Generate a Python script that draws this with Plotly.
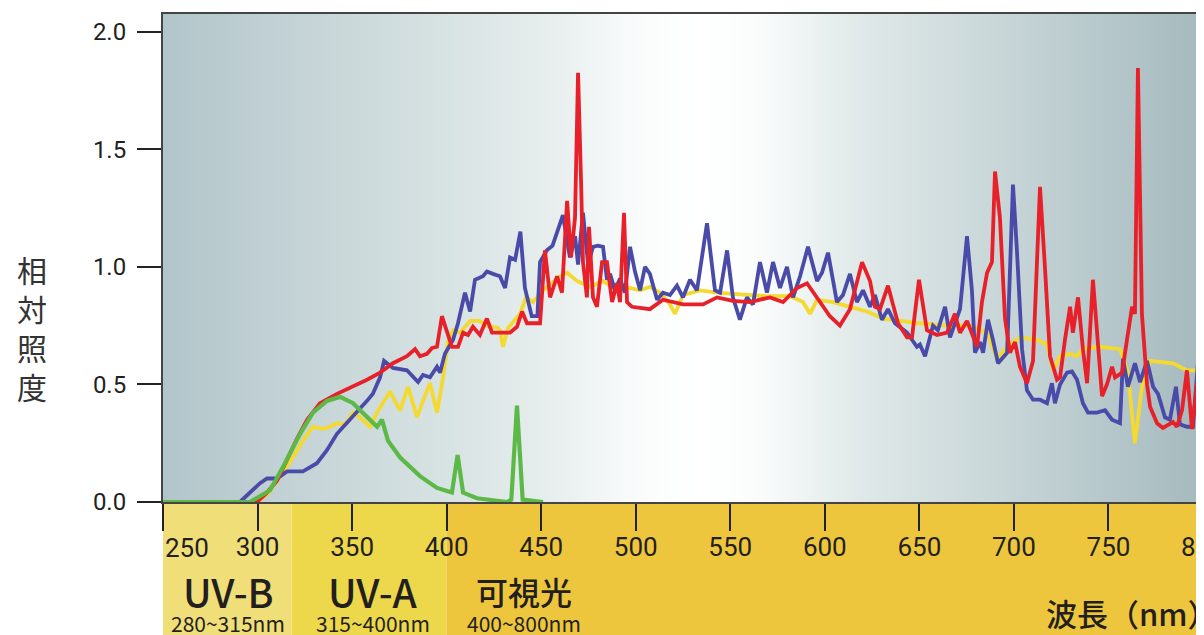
import numpy as np
import plotly.graph_objects as go

# ---------------- data ----------------
X_TICKS = [250, 300, 350, 400, 450, 500, 550, 600, 650, 700, 750, 800]
X_TICK_LABELS = ["", "300", "350", "400", "450", "500", "550", "600", "650", "700", "750", "800"]
Y_TICKS = [0.0, 0.5, 1.0, 1.5, 2.0]
Y_TICK_LABELS = ["0.0", "0.5", "1.0", "1.5", "2.0"]

# yellow series
yellow_wl = [300, 306, 311, 318.8, 324, 329.3, 334.6, 338.3, 342, 346.3, 350.5, 354.2, 359.5, 363.2,
             370, 375.3, 379.6, 384.3, 387.5, 391.2, 394.9, 398.1, 400.7, 403.4, 407.1, 412.4, 417.6,
             421.3, 424.5, 427.2, 428.2, 429.8, 432.5, 438.8, 442, 445.7, 451, 460, 463.7, 468.9, 475.8,
             482.7, 490.1, 497, 502.3, 507.5, 512.8, 518.1, 520.8, 525, 534, 543, 551.4, 560.4, 569.4,
             577.9, 581.6, 588.5, 592.2, 595.9, 604.3, 613.3, 622.3, 630.8, 639.8, 650.3, 664.6, 676.8,
             685.8, 691.1, 696.4, 703.2, 712.2, 717.5, 720.7, 724.4, 729.7, 733.4, 736.5, 745.5, 756.1,
             760.3, 764, 767.7, 772, 784.1, 791.5, 800]
yellow_val = [0.0, 0.04, 0.1, 0.19, 0.26, 0.32, 0.31, 0.32, 0.335, 0.33, 0.38, 0.36, 0.32, 0.38,
              0.47, 0.39, 0.49, 0.36, 0.43, 0.505, 0.38, 0.53, 0.68, 0.73, 0.72, 0.77, 0.77,
              0.75, 0.745, 0.74, 0.73, 0.66, 0.74, 0.80, 0.87, 0.85, 0.90, 0.96, 0.975, 0.94, 0.915,
              0.94, 0.90, 0.91, 0.90, 0.915, 0.89, 0.84, 0.80, 0.88, 0.90, 0.89, 0.885, 0.88, 0.875,
              0.875, 0.875, 0.85, 0.80, 0.86, 0.85, 0.83, 0.81, 0.78, 0.77, 0.76, 0.75, 0.75,
              0.72, 0.61, 0.66, 0.70, 0.69, 0.67, 0.56, 0.62, 0.63, 0.62, 0.65, 0.66, 0.65,
              0.55, 0.25, 0.49, 0.60, 0.59, 0.56, 0.56]

# blue series
blue_wl = [280.1, 290.7, 301.3, 305, 310.3, 315.6, 318.8, 324, 331.4, 336.7, 342, 347.3, 352.6, 357.9,
           361, 364.8, 366.9, 371.6, 379, 384.9, 387.5, 391.2, 394.9, 396.5, 399.1, 403.4, 406, 409.7,
           412.4, 415, 419.2, 421.3, 424.5, 428.2, 430.9, 433.5, 436.2, 439, 441.4, 445, 448, 449.4,
           453, 456, 461.5, 465.2, 467.9, 469.5, 472.1, 474.8, 477.4, 480, 482.7, 484.8, 486.4, 489,
           491.7, 494.3, 497, 499.6, 502.3, 504.9, 507.5, 511.3, 514.4, 518.1, 521.8, 525, 528.7,
           532.4, 537.7, 541.9, 544.6, 548.3, 551.4, 555.1, 558.8, 562, 565.7, 569.4, 572.6, 576.3,
           580, 583.2, 586.9, 591.1, 595.9, 598.5, 601.7, 606.4, 609.6, 613.3, 617, 620.2, 623.9,
           626.5, 630.2, 633.4, 637.1, 643.5, 646.1, 648.7, 650.3, 653, 655.6, 657.2, 659.8, 663.6,
           666.2, 668.8, 671.5, 675.2, 677.8, 679.4, 682.1, 683.7, 686.3, 688.9, 691.6, 696.4, 699.5,
           701.6, 704.3, 706.9, 710.1, 713.8, 717.5, 720.1, 721.7, 724.4, 728.1, 730.7, 733.4, 736.5,
           739.2, 743.9, 748.2, 751.9, 756.1, 757.7, 760.3, 764, 766.7, 770.4, 773.6, 776.2, 779.9,
           782.5, 785.7, 787.8, 791.5, 794.7, 797.4, 800]
blue_val = [0.0, 0.0, 0.08, 0.10, 0.10, 0.13, 0.13, 0.13, 0.165, 0.22, 0.29, 0.335, 0.38, 0.43,
            0.46, 0.53, 0.60, 0.57, 0.56, 0.51, 0.54, 0.53, 0.575, 0.55, 0.63, 0.69, 0.76, 0.89,
            0.81, 0.945, 0.96, 0.98, 0.97, 0.96, 0.91, 1.04, 1.03, 1.15, 0.91, 0.79, 0.79, 1.02,
            1.07, 1.09, 1.22, 1.04, 1.13, 1.01, 1.23, 1.01, 1.085, 1.09, 1.085, 0.945, 0.97, 0.90,
            0.95, 0.89, 1.085, 0.98, 0.90, 1.0, 0.97, 0.86, 0.89, 0.88, 0.92, 0.87, 0.945,
            0.90, 1.185, 0.90, 0.89, 1.07, 0.87, 0.775, 0.87, 0.84, 1.02, 0.89, 1.02, 0.91,
            1.0, 0.87, 0.96, 1.085, 0.94, 0.975, 1.06, 0.85, 0.88, 0.97, 0.85, 0.90, 0.83,
            0.88, 0.775, 0.82, 0.76, 0.72, 0.69, 0.66, 0.67, 0.62, 0.70, 0.75, 0.73, 0.83,
            0.70, 0.76, 0.82, 1.13, 0.90, 0.635, 0.68, 0.635, 0.775, 0.69, 0.59, 0.635, 1.35,
            1.07, 0.65, 0.475, 0.435, 0.435, 0.42, 0.505, 0.42, 0.50, 0.55, 0.555, 0.52, 0.42,
            0.38, 0.38, 0.39, 0.35, 0.335, 0.61, 0.49, 0.59, 0.51, 0.60, 0.49, 0.46, 0.36,
            0.35, 0.49, 0.33, 0.32, 0.32, 0.60, 0.48]

# red series
red_wl = [296, 299.7, 305, 310.3, 315.6, 320.9, 326.2, 333, 342, 350.5, 357.9, 364.8, 371.6, 379,
          383.3, 385.9, 389.6, 392.3, 394.9, 397.5, 400.2, 402.8, 406, 408.7, 411.3, 413.9, 417.6,
          421.3, 424, 428.2, 433.5, 437.2, 439.9, 442.5, 449.4, 452, 454.7, 458.4, 461, 463.7, 465.8,
          467.9, 469.5, 471.1, 472.1, 474.2, 475.3, 477.4, 479.5, 482.2, 484.8, 487.5, 490.1, 491.7,
          493.8, 495.4, 498, 507.5, 514.4, 525, 535.6, 543, 551.4, 560.4, 571, 577.9, 585.3, 590.6,
          595.9, 602.7, 608, 613.3, 619.7, 623.9, 626.5, 629.2, 633.4, 638.7, 643.5, 646.1, 649.8,
          654, 659.3, 664.6, 668.8, 671.5, 675.2, 680.5, 683.1, 685.8, 688.4, 690, 692.6, 695.3,
          697.9, 700.6, 703.2, 706.9, 710.1, 713.8, 716.4, 719.1, 722.8, 724.4, 727, 729.7, 731.2,
          733.9, 736.5, 738.7, 741.8, 744.5, 746.6, 749.2, 751.9, 753.5, 757.2, 759.8, 762.5, 764,
          765.6, 767.7, 770.4, 772, 775.7, 778.8, 781.5, 784.1, 786.2, 788.9, 791.5, 794.2, 796.8, 800]
red_val = [0.0, 0.0, 0.04, 0.09, 0.18, 0.27, 0.35, 0.42, 0.46, 0.49, 0.52, 0.55, 0.59, 0.62,
           0.65, 0.62, 0.63, 0.655, 0.66, 0.79, 0.72, 0.66, 0.66, 0.72, 0.71, 0.745, 0.71,
           0.78, 0.72, 0.72, 0.72, 0.745, 0.81, 0.76, 0.76, 1.07, 0.87, 0.96, 0.89, 1.28, 1.04,
           1.21, 1.825, 1.36, 1.02, 0.87, 1.17, 0.87, 0.83, 1.02, 1.02, 0.85, 0.93, 0.85,
           1.23, 0.85, 0.83, 0.82, 0.86, 0.84, 0.84, 0.87, 0.855, 0.85, 0.87, 0.85, 0.91, 0.93,
           0.87, 0.79, 0.75, 0.82, 1.02, 0.94, 0.83, 0.82, 0.92, 0.76, 0.70, 0.70, 0.945,
           0.73, 0.71, 0.72, 0.80, 0.72, 0.77, 0.66, 0.85, 0.975, 1.02, 1.405, 1.21, 0.78,
           0.635, 0.68, 0.575, 0.505, 0.60, 1.34, 1.0, 0.62, 0.52, 0.53, 0.69, 0.83, 0.72,
           0.87, 0.65, 0.505, 0.945, 0.65, 0.45, 0.50, 0.575, 0.53, 0.55, 0.69, 0.83, 0.80,
           1.845, 0.80, 0.50, 0.405, 0.335, 0.315, 0.33, 0.34, 0.32, 0.39, 0.56, 0.31, 0.50, 0.55]

# green series
green_wl = [250, 296, 306.6, 313.5, 322.5, 329.3, 336.7, 343.6, 350.5, 357.9, 363.2, 365.8, 369,
            375.3, 385.9, 394.9, 402.8, 405.8, 408.7, 416, 432, 434.2, 437.2, 440.2, 451]
green_val = [0.0, 0.0, 0.05, 0.15, 0.29, 0.38, 0.43, 0.447, 0.42, 0.36, 0.32, 0.35, 0.26,
             0.19, 0.11, 0.06, 0.04, 0.20, 0.04, 0.016, 0.0, 0.01, 0.41, 0.01, 0.0]

BAND_EDGES = [250, 318, 400, 800]
BAND_NAMES = ["UV-B", "UV-A", "可視光"]
BAND_RANGES = ["280~315nm", "315~400nm", "400~800nm"]

# ---------------- style ----------------
X_RANGE = [250, 800]
Y_RANGE = [0, 2.075]
BAND_COLORS = ["#F0DE79", "#EDD84B", "#EEC63D"]
TEXT = "#231F20"
NUMFONT = "Roboto, Liberation Sans, sans-serif"
CJK = "Noto Sans CJK JP, Noto Sans, sans-serif"

# background gradient (horizontal)
grad_stops = [
    (0.000, "rgb(178,197,202)"),
    (0.130, "rgb(196,211,214)"),
    (0.275, "rgb(216,227,227)"),
    (0.382, "rgb(233,239,239)"),
    (0.458, "rgb(250,252,252)"),
    (0.515, "rgb(255,255,255)"),
    (0.574, "rgb(250,252,252)"),
    (0.660, "rgb(226,234,234)"),
    (0.805, "rgb(200,214,216)"),
    (1.000, "rgb(165,186,190)"),
]
gx = np.linspace(X_RANGE[0], X_RANGE[1], 111)
gz = [list(gx), list(gx)]

fig = go.Figure()
fig.add_trace(go.Heatmap(x=gx, y=Y_RANGE, z=gz, colorscale=[[p, c] for p, c in grad_stops],
                         zmin=X_RANGE[0], zmax=X_RANGE[1], zsmooth="best", showscale=False,
                         hoverinfo="skip"))

series = [
    (yellow_wl, yellow_val, "#F3D930", 3.8),
    (blue_wl, blue_val, "#4A4AA8", 3.8),
    (red_wl, red_val, "#E8202A", 3.8),
    (green_wl, green_val, "#5DB947", 4.2),
]
for wl, val, col, w in series:
    fig.add_trace(go.Scatter(x=wl, y=val, mode="lines", line=dict(color=col, width=w),
                             hoverinfo="skip", showlegend=False))

shapes = []
for i in range(3):
    shapes.append(dict(type="rect", xref="x", yref="paper", x0=BAND_EDGES[i], x1=BAND_EDGES[i + 1],
                       y0=-0.30, y1=0, fillcolor=BAND_COLORS[i], line=dict(width=0), layer="below"))

annotations = []
band_label_x = [284.4, 360.8, 441]
for i in range(3):
    annotations.append(dict(x=band_label_x[i], xref="x", y=-0.182, yref="paper", text=BAND_NAMES[i],
                            showarrow=False, xanchor="center", yanchor="middle",
                            font=dict(family=CJK, size=39 if i < 2 else 32, color=TEXT, weight=500)))
    annotations.append(dict(x=band_label_x[i], xref="x", y=-0.248, yref="paper", text=BAND_RANGES[i],
                            showarrow=False, xanchor="center", yanchor="middle",
                            font=dict(family=CJK, size=21, color=TEXT)))
# first x tick label (left aligned at the axis start)
annotations.append(dict(x=X_TICKS[0], xref="x", y=-0.094, yref="paper", text=str(X_TICKS[0]),
                        showarrow=False, xanchor="left", yanchor="middle", xshift=0,
                        font=dict(family=NUMFONT, size=26, color=TEXT)))
# x axis title
annotations.append(dict(x=1.0175, xref="paper", y=-0.226, yref="paper", text="波長（nm）",
                        showarrow=False, xanchor="right", yanchor="middle",
                        font=dict(family=CJK, size=31, color=TEXT, weight=500)))
# y axis title (vertical, stacked characters)
annotations.append(dict(x=-0.126, xref="paper", y=0.357, yref="paper", text="相<br>対<br>照<br>度",
                        showarrow=False, xanchor="center", yanchor="middle",
                        font=dict(family=CJK, size=30, color="#333333")))

fig.update_layout(
    width=1196, height=627,
    margin=dict(l=155, r=1, t=6, b=133, autoexpand=False),
    paper_bgcolor="white", plot_bgcolor="white",
    showlegend=False,
    shapes=shapes, annotations=annotations,
    xaxis=dict(range=X_RANGE, tickvals=X_TICKS, ticktext=X_TICK_LABELS, ticks="outside", ticklen=27,
               tickwidth=1.5, tickcolor="#222", showgrid=False, zeroline=False, showline=True,
               linecolor="#444", linewidth=2, mirror=True, automargin=False,
               ticklabeloverflow="allow",
               tickfont=dict(family=NUMFONT, size=26, color=TEXT), ticklabelstandoff=-6),
    yaxis=dict(range=Y_RANGE, tickvals=Y_TICKS, ticktext=Y_TICK_LABELS, ticks="outside", ticklen=24,
               tickwidth=1.5, tickcolor="#222", showgrid=False, zeroline=False, showline=True,
               linecolor="#444", linewidth=2, mirror=True, automargin=False,
               tickfont=dict(family=NUMFONT, size=24, color=TEXT), ticklabelstandoff=6),
)

fig.write_html("out.html")
